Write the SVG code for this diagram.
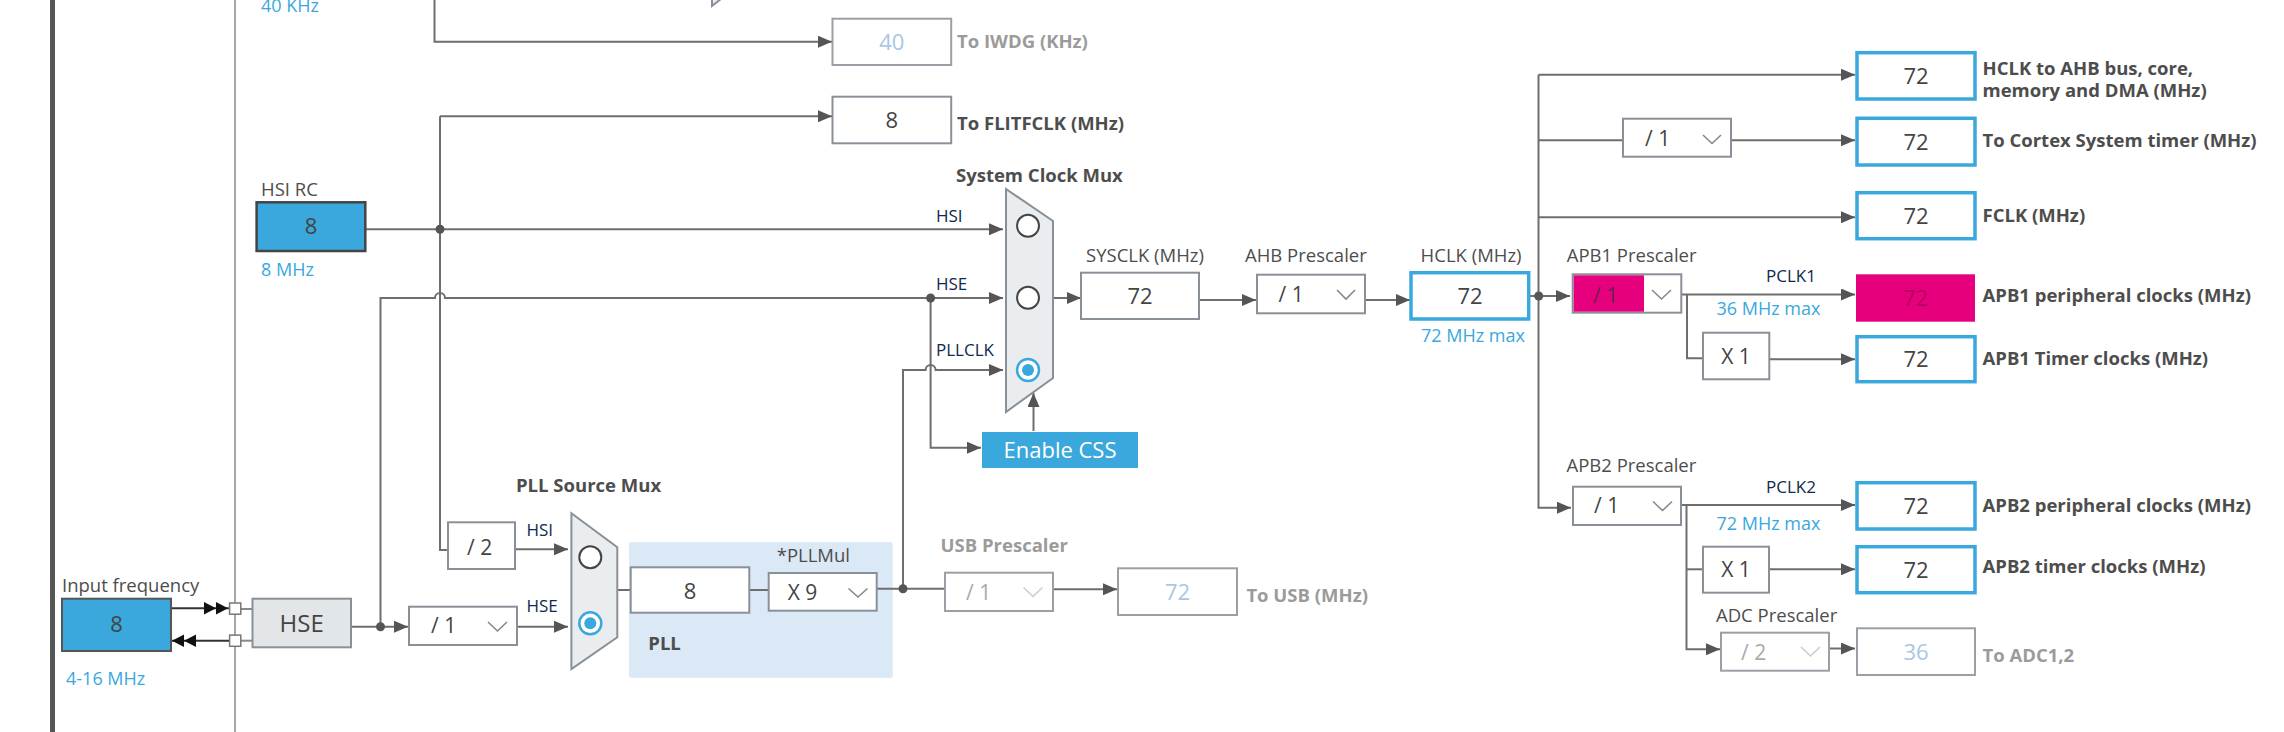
<svg xmlns="http://www.w3.org/2000/svg" width="2284" height="732" viewBox="0 0 2284 732">
<style>
text{font-family:"Open Sans","Liberation Sans",sans-serif}
.ln{stroke:#6e6e6e;stroke-width:2;fill:none}
.ar{marker-end:url(#ah)}
.box{fill:#fff;stroke:#8a9097;stroke-width:2}
.dbox{fill:#fff;stroke:#9aa0a6;stroke-width:2}
.bbox{fill:#fff;stroke:#3aa8dc;stroke-width:3.5}
.val{font-size:22px;fill:#444;text-anchor:middle}
.dval{font-size:22px;fill:#a9c6e4;text-anchor:middle}
.pre{font-size:21px;fill:#444}
.dpre{font-size:21px;fill:#aaa}
.lbl{font-size:18.5px;fill:#4d4d4d}
.bl{font-size:18.5px;fill:#4d4d4d;font-weight:bold}
.rl{font-size:18.5px;fill:#4d4d4d;font-weight:bold}
.gl{font-size:18.5px;fill:#9b9b9b;font-weight:bold}
.sig{font-size:17px;fill:#10294d}
.blu{font-size:18px;fill:#3aa8dc}
.chev{fill:none;stroke:#888;stroke-width:1.6}
.dchev{fill:none;stroke:#ccc;stroke-width:1.6}
.mux{fill:#e9edf0;stroke:#8a9097;stroke-width:2}
.rad{fill:#fff;stroke:#444;stroke-width:2}
.sel{fill:#fff;stroke:#3aa8dc;stroke-width:2.5}
.dot{fill:#555}
</style>
<defs>
<marker id="ah" markerWidth="14" markerHeight="12" refX="14" refY="6" orient="auto" markerUnits="userSpaceOnUse"><path d="M0,0 L14,6 L0,12 Z" fill="#555"/></marker>
<marker id="bh" markerWidth="12" markerHeight="12" refX="12" refY="6" orient="auto" markerUnits="userSpaceOnUse"><path d="M0,0 L12,6 L0,12 Z" fill="#111"/></marker>
</defs>
<rect width="2284" height="732" fill="#fff"/>
<line x1="52.5" y1="0" x2="52.5" y2="732" stroke="#555" stroke-width="5"/>
<line x1="235" y1="0" x2="235" y2="732" stroke="#888" stroke-width="1.5"/>

<g id="pll-bg"><rect x="629" y="542.3" width="263.7" height="135.4" fill="#dbe8f5" rx="2"/><text x="648.3" y="650" class="bl">PLL</text></g>

<g id="connectors">
<path class="ln ar" d="M434.5,-2 V41.7 H832"/>
<path class="ln ar" d="M440,116.3 H832"/>
<path class="ln" d="M440,116.3 V550 H448"/>
<path class="ln ar" d="M366,229.3 H1003"/>
<path class="ln ar" d="M380.5,626.7 V298 H435 a5,5 0 0 1 10,0 H1003"/>
<path class="ln ar" d="M351,626.7 H408"/>
<path class="ln ar" d="M517,626.7 H568"/>
<path class="ln ar" d="M515,549.3 H568"/>
<path class="ln" d="M617.3,590 H631"/>
<path class="ln" d="M749.3,590 H769"/>
<path class="ln" d="M877,588.7 H945"/>
<path class="ln ar" d="M903,588.7 V370 H925.6 a5,5 0 0 1 10,0 H1003"/>
<path class="ln ar" d="M930.6,298 V447.7 H981"/>
<path class="ln ar" d="M1033.5,431 V393"/>
<path class="ln ar" d="M1053,298 H1081"/>
<path class="ln ar" d="M1199,300 H1256"/>
<path class="ln ar" d="M1365,300 H1410"/>
<path class="ln ar" d="M1053,589.3 H1117"/>
<path class="ln ar" d="M1529,296 H1570"/>
<path class="ln ar" d="M1538.5,74.7 H1855"/>
<path class="ln ar" d="M1538.5,74.7 V507.7 H1571"/>
<path class="ln" d="M1538.5,140.3 H1623"/>
<path class="ln ar" d="M1731,140.3 H1855"/>
<path class="ln ar" d="M1538.5,217.3 H1855"/>
<path class="ln ar" d="M1681,294.5 H1855"/>
<path class="ln" d="M1687,294.5 V358.3 H1703"/>
<path class="ln ar" d="M1769,359.3 H1855"/>
<path class="ln ar" d="M1681,505 H1855"/>
<path class="ln ar" d="M1686.5,505 V649.3 H1720"/>
<path class="ln" d="M1686.5,569.3 H1703"/>
<path class="ln ar" d="M1769,569.3 H1855"/>
<path class="ln ar" d="M1829,648.5 H1855"/>
<circle class="dot" cx="440" cy="229.3" r="4.5"/>
<circle class="dot" cx="930.6" cy="298" r="4.5"/>
<circle class="dot" cx="380.5" cy="626.7" r="4.5"/>
<circle class="dot" cx="903" cy="588.7" r="4.5"/>
<circle class="dot" cx="1538.7" cy="296" r="4.5"/>
<line x1="171" y1="608.3" x2="229.6" y2="608.3" stroke="#333" stroke-width="2"/>
<path d="M204,602 L216,608.3 L204,614.6 Z M216,602 L228,608.3 L216,614.6 Z" fill="#111"/>
<line x1="240.8" y1="609" x2="252.5" y2="609" stroke="#888" stroke-width="2"/>
<line x1="172" y1="640.7" x2="229.6" y2="640.7" stroke="#333" stroke-width="2"/>
<path d="M196,634.4 L184,640.7 L196,647 Z M184,634.4 L172,640.7 L184,647 Z" fill="#111"/>
<line x1="240.8" y1="640.7" x2="252.5" y2="640.7" stroke="#888" stroke-width="2"/>
<rect x="229.6" y="603" width="11.2" height="11.2" fill="#fff" stroke="#777" stroke-width="1.5"/>
<rect x="229.6" y="635.1" width="11.2" height="11.2" fill="#fff" stroke="#777" stroke-width="1.5"/>
</g>

<g id="lsi-mux"><polygon class="mux" points="712,-30 712,6 745,-20"/></g>
<text x="261" y="12" class="blu">40 KHz</text>

<g id="iwdg"><rect class="dbox" x="832.5" y="18.7" width="118.7" height="46.3"/><text class="dval" x="891.8" y="49.5">40</text><text class="gl" x="957" y="48">To IWDG (KHz)</text></g>
<g id="flitfclk"><rect class="box" x="832.5" y="96.7" width="118.7" height="46.6"/><text class="val" x="891.8" y="128">8</text><text class="rl" x="957" y="130">To FLITFCLK (MHz)</text></g>

<g id="hsi-rc"><text class="lbl" x="261" y="196">HSI RC</text><rect x="256.6" y="202.3" width="108.7" height="48.7" fill="#3aa8dc" stroke="#444" stroke-width="2.5"/><text class="val" x="311" y="234">8</text><text class="blu" x="261" y="276">8 MHz</text></g>

<g id="input-freq"><text class="lbl" x="62" y="591.7">Input frequency</text><rect x="62" y="598.7" width="109" height="52.3" fill="#3aa8dc" stroke="#555" stroke-width="2"/><text class="val" x="116.5" y="632">8</text><text class="blu" x="66" y="685">4-16 MHz</text></g>

<g id="hse"><rect x="252.5" y="598.7" width="98.5" height="48.6" fill="#e3e6e9" stroke="#8a9097" stroke-width="2"/><text class="val" x="301.7" y="632" style="font-size:24px">HSE</text></g>

<g id="hse-prediv"><rect class="box" x="409" y="606.7" width="108" height="38.3"/><text class="pre" x="431" y="633.3">/ 1</text><polyline class="chev" points="488,622 497.5,631 507,622"/></g>

<g id="hsi-div2"><rect class="box" x="448" y="522.3" width="67" height="46.7"/><text class="pre" x="467" y="555">/ 2</text></g>

<g id="pll-src-mux"><text class="bl" x="516" y="491.7">PLL Source Mux</text><text class="sig" x="526.5" y="536">HSI</text><text class="sig" x="526.5" y="611.7">HSE</text><polygon class="mux" points="571.4,513.3 617.3,547.3 617.3,637.3 571.4,669"/><circle class="rad" cx="590.3" cy="557.3" r="11"/><circle class="sel" cx="590.3" cy="623.3" r="11"/><circle cx="590.3" cy="623.3" r="6" fill="#3aa8dc"/></g>

<g id="pll-in"><rect class="box" x="630.7" y="567.3" width="118.6" height="45.4"/><text class="val" x="690" y="598.5">8</text></g>
<g id="pllmul"><text class="lbl" x="776.7" y="561.7">*PLLMul</text><rect class="box" x="768.7" y="573" width="108" height="37.7"/><text class="pre" x="787.7" y="600">X 9</text><polyline class="chev" points="848.5,588.5 858,597 867.5,588.5"/></g>

<g id="usb-pre"><text class="gl" x="940.6" y="551.7">USB Prescaler</text><rect class="dbox" x="945" y="572.7" width="108" height="38.3"/><text class="dpre" x="966" y="600">/ 1</text><polyline class="dchev" points="1023.5,587.5 1033,596.5 1042.5,587.5"/></g>
<g id="usb-out"><rect class="dbox" x="1118" y="568.3" width="119" height="46.7"/><text class="dval" x="1177.5" y="600">72</text><text class="gl" x="1246.4" y="601.7">To USB (MHz)</text></g>

<g id="sys-mux"><text class="bl" x="956" y="182">System Clock Mux</text><text class="sig" x="936" y="221.7">HSI</text><text class="sig" x="936" y="290">HSE</text><text class="sig" x="936" y="356">PLLCLK</text><polygon class="mux" points="1006,189 1053,221 1053,378 1006,412"/><circle class="rad" cx="1028" cy="225.7" r="11"/><circle class="rad" cx="1028" cy="297.7" r="11"/><circle class="sel" cx="1028" cy="370" r="11"/><circle cx="1028" cy="370" r="6" fill="#3aa8dc"/></g>

<g id="css"><rect x="982" y="432" width="156" height="36" fill="#3aa8dc"/><text x="1060" y="458" style="font-size:22px;fill:#fff;text-anchor:middle">Enable CSS</text></g>

<g id="sysclk"><text class="lbl" x="1086" y="261.7">SYSCLK (MHz)</text><rect class="box" x="1081" y="272.7" width="118" height="46.3"/><text class="val" x="1140" y="304">72</text></g>
<g id="ahb"><text class="lbl" x="1245" y="261.7">AHB Prescaler</text><rect class="box" x="1257" y="274.7" width="108" height="38.6"/><text class="pre" x="1278.5" y="302">/ 1</text><polyline class="chev" points="1337,290 1346,299 1355,290"/></g>
<g id="hclk"><text class="lbl" x="1420.6" y="261.7">HCLK (MHz)</text><rect class="bbox" x="1411" y="272.7" width="117.7" height="46.3"/><text class="val" x="1470" y="304">72</text><text class="blu" x="1421" y="341.7">72 MHz max</text></g>

<g id="ahb-out"><rect class="bbox" x="1857" y="52.7" width="118" height="46.3"/><text class="val" x="1916" y="84">72</text><text class="rl" x="1982.5" y="75">HCLK to AHB bus, core,</text><text class="rl" x="1982.5" y="97">memory and DMA (MHz)</text></g>
<g id="cortex-pre"><rect class="box" x="1623" y="118.7" width="108" height="38"/><text class="pre" x="1645" y="146">/ 1</text><polyline class="chev" points="1703,135 1712,143.5 1721,135"/></g>
<g id="cortex-out"><rect class="bbox" x="1857" y="118.3" width="118" height="46.7"/><text class="val" x="1916" y="150">72</text><text class="rl" x="1982.5" y="147.3">To Cortex System timer (MHz)</text></g>
<g id="fclk"><rect class="bbox" x="1857" y="192.7" width="118" height="46"/><text class="val" x="1916" y="224">72</text><text class="rl" x="1982.5" y="222">FCLK (MHz)</text></g>

<g id="apb1-pre"><text class="lbl" x="1566.7" y="261.7">APB1 Prescaler</text><rect class="box" x="1572.7" y="274.3" width="108.6" height="38.4"/><rect x="1573.7" y="275.3" width="70.3" height="36.4" fill="#e6007e"/><text class="pre" x="1593" y="302.7" style="fill:#6a2349">/ 1</text><polyline class="chev" points="1652,290 1661.5,299 1671,290"/></g>
<text class="sig" x="1766" y="281.7">PCLK1</text>
<text class="blu" x="1716.5" y="315">36 MHz max</text>
<g id="apb1-periph"><rect x="1856" y="274.3" width="119" height="47.4" fill="#e6007e"/><text class="val" x="1915.5" y="306" style="fill:#b2005f">72</text><text class="rl" x="1982.5" y="302">APB1 peripheral clocks (MHz)</text></g>
<g id="apb1-x1"><rect class="box" x="1703" y="332.7" width="66.3" height="46.6"/><text class="pre" x="1736" y="364" style="text-anchor:middle">X 1</text></g>
<g id="apb1-timer"><rect class="bbox" x="1857" y="336.7" width="118" height="45"/><text class="val" x="1916" y="367">72</text><text class="rl" x="1982.5" y="365">APB1 Timer clocks (MHz)</text></g>

<g id="apb2-pre"><text class="lbl" x="1566.5" y="471.7">APB2 Prescaler</text><rect class="box" x="1573" y="486.7" width="108" height="38.3"/><text class="pre" x="1594" y="513.3">/ 1</text><polyline class="chev" points="1653,501.5 1662.5,510.5 1672,501.5"/></g>
<text class="sig" x="1766" y="493.3">PCLK2</text>
<text class="blu" x="1716.5" y="530">72 MHz max</text>
<g id="apb2-periph"><rect class="bbox" x="1857" y="482.7" width="118" height="46.3"/><text class="val" x="1916" y="514">72</text><text class="rl" x="1982.5" y="511.7">APB2 peripheral clocks (MHz)</text></g>
<g id="apb2-x1"><rect class="box" x="1703" y="546.7" width="66" height="46"/><text class="pre" x="1736" y="577" style="text-anchor:middle">X 1</text></g>
<g id="apb2-timer"><rect class="bbox" x="1857" y="546.7" width="118" height="46"/><text class="val" x="1916" y="578">72</text><text class="rl" x="1982.5" y="573.3">APB2 timer clocks (MHz)</text></g>
<g id="adc-pre"><text class="lbl" x="1716" y="621.7">ADC Prescaler</text><rect class="dbox" x="1721" y="632.7" width="108" height="38"/><text class="dpre" x="1741" y="660">/ 2</text><polyline class="dchev" points="1801,647 1810.5,656 1820,647"/></g>
<g id="adc-out"><rect class="dbox" x="1857" y="628.3" width="118" height="46.7"/><text class="dval" x="1916" y="660">36</text><text class="gl" x="1982.5" y="661.7">To ADC1,2</text></g>
</svg>
